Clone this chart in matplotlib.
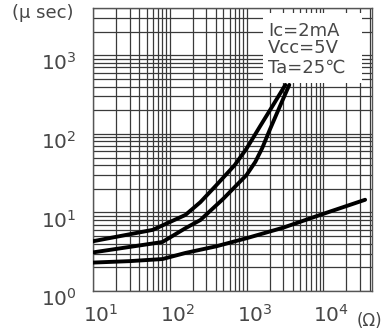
import matplotlib
matplotlib.use("Agg")
import matplotlib.pyplot as plt
from matplotlib.patches import Rectangle
from matplotlib.ticker import LogLocator, NullFormatter
from matplotlib.transforms import ScaledTranslation

# ---- data ----
rl_top = [10, 60, 160, 250, 400, 700, 1000, 1500, 2200, 3200]
t_top = [4.3, 6.0, 9.3, 13.5, 22, 40, 65, 125, 230, 420]

rl_mid = [10, 80, 160, 250, 500, 700, 1000, 1300, 1600, 2000, 2800, 3600]
t_mid = [3.1, 4.2, 6.3, 8.0, 15, 21, 30, 44, 66, 112, 240, 420]

rl_low = [10, 30, 80, 160, 400, 1000, 3000, 10000, 35000]
t_low = [2.3, 2.4, 2.55, 3.05, 3.7, 4.7, 6.4, 9.6, 14.5]

x_ticks = [10, 100, 1000, 10000]
x_ticklabels = ["$10^{1}$", "$10^{2}$", "$10^{3}$", "$10^{4}$"]
y_ticks = [1, 10, 100, 1000]
y_ticklabels = ["$10^{0}$", "$10^{1}$", "$10^{2}$", "$10^{3}$"]
cond_lines = ["Ic=2mA", "Vcc=5V", "Ta=25\u2103"]

TXT = "#474747"
GRID = "#3a3a3a"

fig = plt.figure(figsize=(3.85, 3.35), dpi=100)
ax = fig.add_axes([93 / 385, 44 / 335, 279 / 385, 283 / 335])
ax.set_xscale("log")
ax.set_yscale("log")
ax.set_xlim(10, 4.3e4)
ax.set_ylim(1, 4000)

ax.xaxis.set_minor_locator(LogLocator(base=10, subs=range(2, 10), numticks=20))
ax.yaxis.set_minor_locator(LogLocator(base=10, subs=range(2, 10), numticks=20))
ax.xaxis.set_minor_formatter(NullFormatter())
ax.yaxis.set_minor_formatter(NullFormatter())
ax.grid(True, which="both", color=GRID, linewidth=0.9)
ax.set_axisbelow(True)

ax.set_xticks(x_ticks)
ax.set_xticklabels(x_ticklabels)
ax.set_yticks(y_ticks)
ax.set_yticklabels(y_ticklabels)
ax.tick_params(which="both", length=0, colors=TXT, labelsize=14.5)
ax.tick_params(axis="x", pad=9)
ax.tick_params(axis="y", pad=12)
for s in ax.spines.values():
    s.set_color("#555555")
    s.set_linewidth(1.0)

# small label shifts as in the reference
for lab in ax.get_xticklabels():
    lab.set_transform(lab.get_transform() + ScaledTranslation(8 / 100, 0, fig.dpi_scale_trans))
for lab in ax.get_yticklabels():
    lab.set_transform(lab.get_transform() + ScaledTranslation(0, -6 / 100, fig.dpi_scale_trans))

for xs, ys in [(rl_top, t_top), (rl_mid, t_mid), (rl_low, t_low)]:
    ax.plot(xs, ys, color="black", linewidth=2.8, solid_capstyle="round",
            solid_joinstyle="round", zorder=3)

# condition box
ax.add_patch(Rectangle((0.609, 0.735), 0.355, 0.247, transform=ax.transAxes,
                       facecolor="white", edgecolor="none", zorder=4))
for txt, yy in zip(cond_lines, [0.919, 0.859, 0.788]):
    ax.text(0.627, yy, txt, transform=ax.transAxes, fontsize=13, color=TXT,
            va="center", ha="left", zorder=5,
            family=["DejaVu Sans"])

fig.text(12 / 385, 1 - 13 / 335, "(\u03bc sec)", fontsize=13, color=TXT,
         va="center", ha="left")
fig.text(369 / 385, 1 - 321 / 335, "(\u03a9)", fontsize=12, color=TXT,
         va="center", ha="center")

fig.savefig("out.png", dpi=100)
